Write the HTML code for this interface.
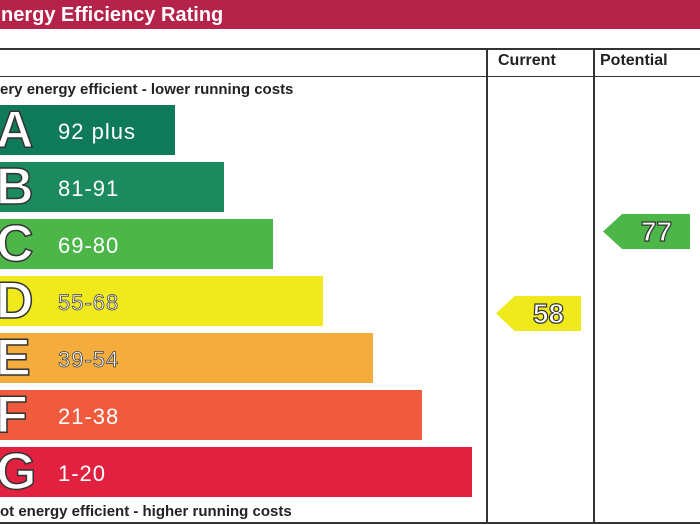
<!DOCTYPE html>
<html><head><style>
body{margin:0;width:700px;height:525px;background:#fff;position:relative;overflow:hidden;font-family:"Liberation Sans",sans-serif}
.t{position:absolute;left:0;top:0;width:700px;height:29px;background:#b5234a;color:#fff;font-weight:bold;font-size:20px;line-height:31px;text-indent:1px}
.l{position:absolute;background:#333}
.h{position:absolute;font-weight:bold;font-size:16px;color:#222}
.bar{position:absolute;left:0;height:50px;color:#fff}
.bar b{position:absolute;left:-4px;top:-3px;font-size:52px;line-height:56px;-webkit-text-stroke:1.5px #333}
.bar span{position:absolute;left:58px;top:14px;font-size:22px;letter-spacing:1px}
.bar.o span{-webkit-text-stroke:0.8px #444}
.ar{position:absolute;height:35px;font-size:28px;font-weight:bold;color:#fff;-webkit-text-stroke:1.2px #333;line-height:35px;text-align:center;padding-left:20px;box-sizing:border-box;clip-path:polygon(0 50%,22% 0,100% 0,100% 100%,22% 100%)}
</style></head><body>
<div class="t">nergy Efficiency Rating</div>
<div class="l" style="left:0;top:48px;width:700px;height:2px"></div>
<div class="l" style="left:0;top:76px;width:700px;height:1px"></div>
<div class="l" style="left:0;top:522px;width:700px;height:2px"></div>
<div class="l" style="left:486px;top:48px;width:2px;height:476px"></div>
<div class="l" style="left:593px;top:48px;width:2px;height:476px"></div>
<div class="h" style="left:498px;top:52px">Current</div>
<div class="h" style="left:600px;top:52px">Potential</div>
<div class="h" style="left:0;top:81px;font-size:15px">ery energy efficient - lower running costs</div>
<div class="bar" style="top:105px;width:175px;background:#0f7a5a"><b>A</b><span>92 plus</span></div>
<div class="bar" style="top:162px;width:224px;background:#1b8a5e"><b>B</b><span>81-91</span></div>
<div class="bar" style="top:219px;width:273px;background:#4cb648"><b>C</b><span>69-80</span></div>
<div class="bar o" style="top:276px;width:323px;background:#f0ea1c"><b>D</b><span>55-68</span></div>
<div class="bar o" style="top:333px;width:373px;background:#f4ac3c"><b>E</b><span>39-54</span></div>
<div class="bar" style="top:390px;width:422px;background:#ef5b3c"><b>F</b><span>21-38</span></div>
<div class="bar" style="top:447px;width:472px;background:#e22140"><b>G</b><span>1-20</span></div>
<div class="h" style="left:0;top:503px;font-size:15px">ot energy efficient - higher running costs</div>
<div class="ar" style="left:603px;top:214px;width:87px;background:#4cb648">77</div>
<div class="ar" style="left:496px;top:296px;width:85px;background:#f0ea1c">58</div>
</body></html>
